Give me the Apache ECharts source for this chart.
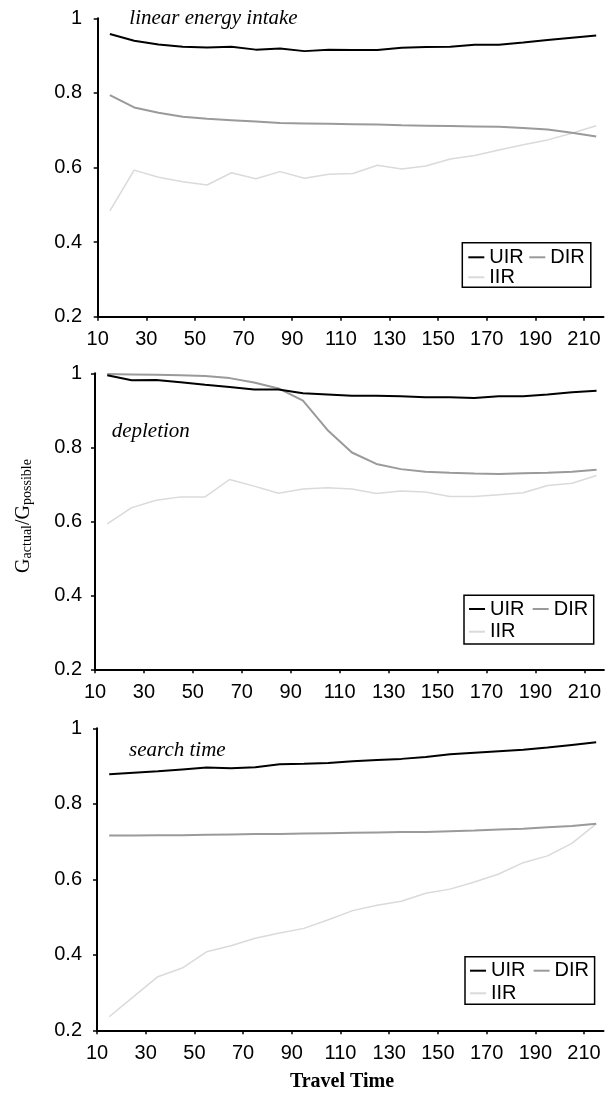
<!DOCTYPE html>
<html><head><meta charset="utf-8">
<script src="https://cdn.jsdelivr.net/npm/echarts@6/dist/echarts.min.js"></script>
<style>html,body{margin:0;padding:0;background:#fff}#c{width:608px;height:1095px}</style>
</head><body><div id="c"></div>
<script>
// ---- data ----
const travelTime = [15,25,35,45,55,65,75,85,95,105,115,125,135,145,155,165,175,185,195,205,215];
const xTickLabels = [10,30,50,70,90,110,130,150,170,190,210];
const seriesNames = ['UIR','DIR','IIR'];
const panelTitles = ['linear energy intake','depletion','search time'];

const linearUIR = [0.958,0.940,0.930,0.924,0.922,0.924,0.916,0.919,0.912,0.916,0.915,0.915,0.921,0.923,0.924,0.929,0.929,0.935,0.942,0.948,0.954];
const linearDIR = [0.794,0.761,0.747,0.736,0.731,0.727,0.723,0.719,0.718,0.717,0.716,0.715,0.713,0.712,0.711,0.710,0.709,0.706,0.702,0.693,0.683];
const linearIIR = [0.484,0.593,0.574,0.562,0.553,0.586,0.570,0.589,0.571,0.582,0.584,0.606,0.596,0.604,0.623,0.632,0.647,0.661,0.674,0.692,0.712];

const depletionUIR = [0.995,0.981,0.982,0.976,0.969,0.963,0.956,0.956,0.946,0.943,0.939,0.939,0.938,0.935,0.935,0.933,0.938,0.938,0.943,0.949,0.953];
const depletionDIR = [0.998,0.997,0.996,0.995,0.993,0.987,0.975,0.959,0.926,0.847,0.786,0.755,0.741,0.734,0.731,0.729,0.728,0.730,0.731,0.734,0.739];
const depletionIIR = [0.593,0.637,0.657,0.666,0.666,0.713,0.695,0.676,0.687,0.691,0.687,0.675,0.682,0.679,0.667,0.667,0.672,0.677,0.697,0.703,0.724];

const searchUIR = [0.878,0.882,0.886,0.891,0.896,0.894,0.897,0.905,0.906,0.908,0.913,0.916,0.919,0.924,0.931,0.935,0.939,0.943,0.949,0.956,0.963];
const searchDIR = [0.716,0.716,0.717,0.717,0.718,0.719,0.720,0.720,0.721,0.722,0.723,0.724,0.725,0.725,0.727,0.729,0.732,0.734,0.738,0.741,0.747];
const searchIIR = [0.236,0.289,0.342,0.365,0.408,0.424,0.444,0.458,0.470,0.493,0.517,0.531,0.542,0.563,0.574,0.593,0.614,0.644,0.662,0.695,0.747];

const panelData = [
  [linearUIR, linearDIR, linearIIR],
  [depletionUIR, depletionDIR, depletionIIR],
  [searchUIR, searchDIR, searchIIR]
];

// ---- styling / layout ----
const SANS = '"Liberation Sans", Arial, sans-serif';
const SERIF = '"Liberation Serif", "Times New Roman", serif';
const lineColors = ['#000000', '#9a9a9a', '#dadada'];
const lineWidths = [2, 2, 1.5];
const grids = [
  {left: 97.7, top: 18.3, width: 505.8, height: 298.4},
  {left: 95.0, top: 373.3, width: 508.9, height: 296.0},
  {left: 97.0, top: 728.3, width: 506.5, height: 302.0}
];
const legendPos = [
  {left: 462.3, top: 242.7, gap: 0, pad: [4.6, 0.5, 0, 6]},
  {left: 464.0, top: 595.3, gap: 2.7, pad: [3.7, 0, 2.3, 5]},
  {left: 465.0, top: 956.7, gap: 2.6, pad: [4, 0, 1, 5]}
];
const titlePos = [[129.3, 18.3], [111.7, 431.5], [129.0, 750]];

const option = {
  backgroundColor: '#fff',
  animation: false,
  grid: grids.map(g => Object.assign({containLabel: false}, g)),
  xAxis: grids.map((g, i) => ({
    type: 'value', gridIndex: i, min: 10, max: 218,
    axisLine: {show: true, onZero: false, lineStyle: {color: '#000', width: 2}},
    axisTick: {show: true, length: 4, inside: false, customValues: xTickLabels, lineStyle: {color: '#000', width: 1.5}},
    axisLabel: {show: true, customValues: xTickLabels, margin: 13, fontSize: 20, fontFamily: SANS, color: '#000'},
    splitLine: {show: false}
  })),
  yAxis: grids.map((g, i) => ({
    type: 'value', gridIndex: i, min: 0.2, max: 1, interval: 0.2,
    axisLine: {show: true, onZero: false, lineStyle: {color: '#000', width: 2}},
    axisTick: {show: true, length: 4, inside: false, lineStyle: {color: '#000', width: 1.5}},
    axisLabel: {show: true, margin: g.left - 82, fontSize: 20, fontFamily: SANS, color: '#000'},
    splitLine: {show: false}
  })),
  legend: legendPos.map(p => ({
    left: p.left, top: p.top, width: 150, orient: 'horizontal',
    selectedMode: false, icon: 'rect', itemWidth: 16, itemHeight: 2, itemGap: p.gap,
    padding: p.pad, borderColor: '#000', borderWidth: 1.5, backgroundColor: '#fff',
    formatter: name => name + ' ',
    textStyle: {fontSize: 20, fontFamily: SANS, color: '#000'},
    data: seriesNames
  })),
  series: [],
  graphic: []
};

panelData.forEach((arrs, pi) => {
  arrs.forEach((arr, si) => {
    option.series.push({
      type: 'line', name: seriesNames[si], xAxisIndex: pi, yAxisIndex: pi,
      data: travelTime.map((t, k) => [t, arr[k]]),
      showSymbol: false, symbol: 'none',
      lineStyle: {color: lineColors[si], width: lineWidths[si]},
      itemStyle: {color: lineColors[si]},
      z: 3 - si
    });
  });
  option.graphic.push({
    type: 'text', x: titlePos[pi][0], y: titlePos[pi][1],
    style: {text: panelTitles[pi], font: 'italic 21px ' + SERIF, fill: '#000', align: 'left', verticalAlign: 'middle'}
  });
});

option.graphic.push({
  type: 'text', x: 24, y: 516, rotation: Math.PI / 2,
  style: {
    text: '{m|G}{s|actual}{m|/G}{s|possible}', align: 'center', verticalAlign: 'middle', fill: '#000',
    rich: {
      m: {fontSize: 20, fontFamily: SERIF, lineHeight: 20, verticalAlign: 'top', fill: '#000'},
      s: {fontSize: 14, fontFamily: SERIF, lineHeight: 14, padding: [17, 0, 0, 0], verticalAlign: 'bottom', fill: '#000'}
    }
  }
});
option.graphic.push({
  type: 'text', x: 342, y: 1081.7,
  style: {text: 'Travel Time', font: 'bold 20px ' + SERIF, fill: '#000', align: 'center', verticalAlign: 'middle'}
});

const chart = echarts.init(document.getElementById('c'), null, {renderer: 'canvas'});
chart.setOption(option);
</script>
</body></html>
